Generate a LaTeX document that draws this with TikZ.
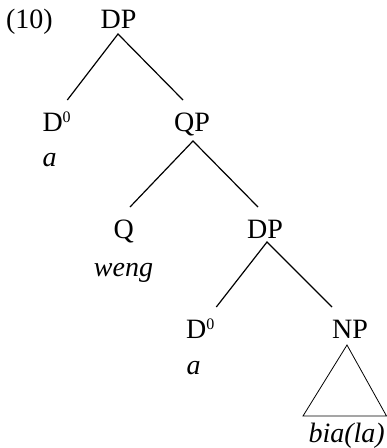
\documentclass[tikz,border=0pt]{standalone}
\usepackage{fontspec}
\setmainfont{Liberation Serif}
\usetikzlibrary{calc}
\newcommand{\supzero}{\raisebox{8.5pt}{\fontsize{16}{16}\selectfont 0}}
\tikzset{
  lab/.style={anchor=base, inner sep=0pt, font=\fontsize{28}{28}\selectfont},
  itlab/.style={lab, font=\fontsize{28}{28}\selectfont\itshape},
  branch/.style={line width=1.2pt},
  tri/.style={line width=0.8pt}
}
\begin{document}
\begin{tikzpicture}[x=1pt,y=1pt]
\useasboundingbox (0,0) rectangle (387,-448);
\node[lab] (ex) at (29.5,-28) {(10)};
\node[lab] (dp1) at (118.5,-28) {DP};
\node[lab,anchor=base west] (d01) at (42.3,-131) {D\supzero};
\node[itlab,anchor=base west] (a1) at (42.5,-166) {a};
\node[lab] (qp) at (192,-131) {QP};
\node[lab] (q) at (123.7,-238) {Q};
\node[itlab] (weng) at (123.5,-276) {weng};
\node[lab] (dp2) at (265,-238) {DP};
\node[lab,anchor=base west] (d02) at (186,-338) {D\supzero};
\node[itlab,anchor=base west] (a2) at (186.5,-374) {a};
\node[lab] (np) at (350,-338) {NP};
\node[itlab] (bia) at (346.7,-442) {bia(la)};
% branches
\draw[branch] ($(d01.base)+(10.7,31)$) -- ($(dp1.base)+(-0.5,-6)$) -- ($(qp.base)+(-9,31)$);
\draw[branch] ($(q.base)+(6.3,31)$) -- ($(qp.base)+(1,-10)$) -- ($(dp2.base)+(-7,31)$);
\draw[branch] ($(d02.base)+(16,31)$) -- ($(dp2.base)+(2,-4)$) -- ($(np.base)+(-18,31)$);
% triangle
\draw[tri] ($(np.base)+(-3,-7)$) -- ($(bia.base)+(-43.7,26)$) -- ($(bia.base)+(39.8,26)$) -- cycle;
\end{tikzpicture}
\end{document}
